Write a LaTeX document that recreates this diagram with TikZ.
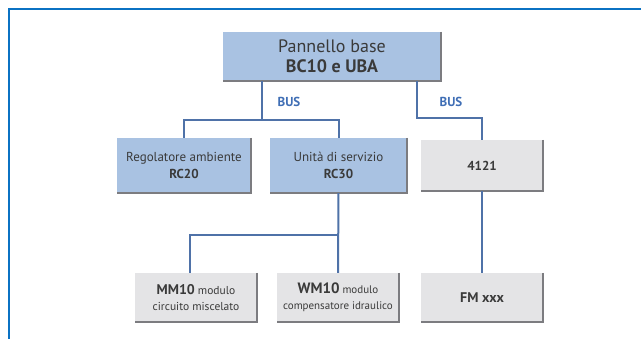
\documentclass[tikz,border=0pt]{standalone}
\usepackage{fontspec}
\setmainfont{PT Sans}
\definecolor{frameblue}{HTML}{0B72C3}
\definecolor{boxblue}{HTML}{A9C2E2}
\definecolor{boxgrey}{HTML}{E4E4E6}
\definecolor{linkblue}{HTML}{4F72A8}
\definecolor{busblue}{HTML}{3F6EB5}
\definecolor{txt}{HTML}{3A3A3A}
\definecolor{shade}{HTML}{7C7C80}
\tikzset{
  box/.style={draw=none, inner sep=0pt, align=center, text=txt, font=\fontsize{13}{17}\selectfont},
  bluebox/.style={box, fill=boxblue},
  greybox/.style={box, fill=boxgrey},
  link/.style={draw=linkblue, line width=2pt},
  shadowedge/.style={draw=shade, line width=2pt},
  buslabel/.style={text=busblue, font=\fontsize{13}{14}\selectfont\bfseries},
}
\begin{document}
\begin{tikzpicture}[x=1pt,y=-1pt]
\useasboundingbox (0,0) rectangle (641,339);
\fill[white] (0,0) rectangle (641,339);
\draw[frameblue, line width=2pt] (8.5,339) -- (8.5,9.5) -- (641,9.5);

\node[bluebox, minimum width=218pt, minimum height=49pt, font=\fontsize{18}{20}\selectfont] (top) at (332,56.5)
  {Pannello base\\\textbf{BC10 e UBA}};
\node[bluebox, minimum width=134pt, minimum height=55pt] (reg) at (184,165.5)
  {Regolatore ambiente\\\textbf{RC20}};
\node[bluebox, minimum width=137pt, minimum height=55pt] (uni) at (338.5,165.5)
  {Unità di servizio\\\textbf{RC30}};
\node[greybox, minimum width=122pt, minimum height=51pt, font=\fontsize{13}{15}\selectfont] (fourone) at (482,165.5)
  {\textbf{4121}};
\node[greybox, minimum width=122pt, minimum height=49pt, font=\fontsize{11.5}{16}\selectfont] (mm) at (196,297.5)
  {{\fontsize{14}{14}\selectfont\textbf{MM10}} modulo\\circuito miscelato};
\node[greybox, minimum width=122pt, minimum height=49pt, font=\fontsize{11}{16}\selectfont] (wm) at (338,297.5)
  {{\fontsize{15}{14}\selectfont\textbf{WM10}} modulo\\compensatore idraulico};
\node[greybox, minimum width=122pt, minimum height=49pt, font=\fontsize{14}{16}\selectfont] (fm) at (482,297.5)
  {\textbf{FM xxx}};

\foreach \n in {top,reg,uni,fourone,mm,wm,fm}
  \draw[shadowedge] (\n.north east) -- (\n.south east) -- (\n.south west);

\coordinate (j1) at (262,120);
\coordinate (j2) at (417,118);
\coordinate (j3) at (338,235);
\coordinate (j4) at (190,235);

\draw[link] (top.south -| j1) -- (j1);
\draw[link] (reg.north) |- (j1) -| (uni.north);
\draw[link] (top.south -| j2) -- (j2) -| (fourone.north);
\draw[link] (uni.south) -- (wm.north);
\draw[link] (j3) -- (j4) -- (j4 |- mm.north);
\draw[link] (fourone.south) -- (fm.north);

\node[buslabel] (bus1) at (289,102) {BUS};
\node[buslabel] (bus2) at (451,102) {BUS};
\end{tikzpicture}
\end{document}
